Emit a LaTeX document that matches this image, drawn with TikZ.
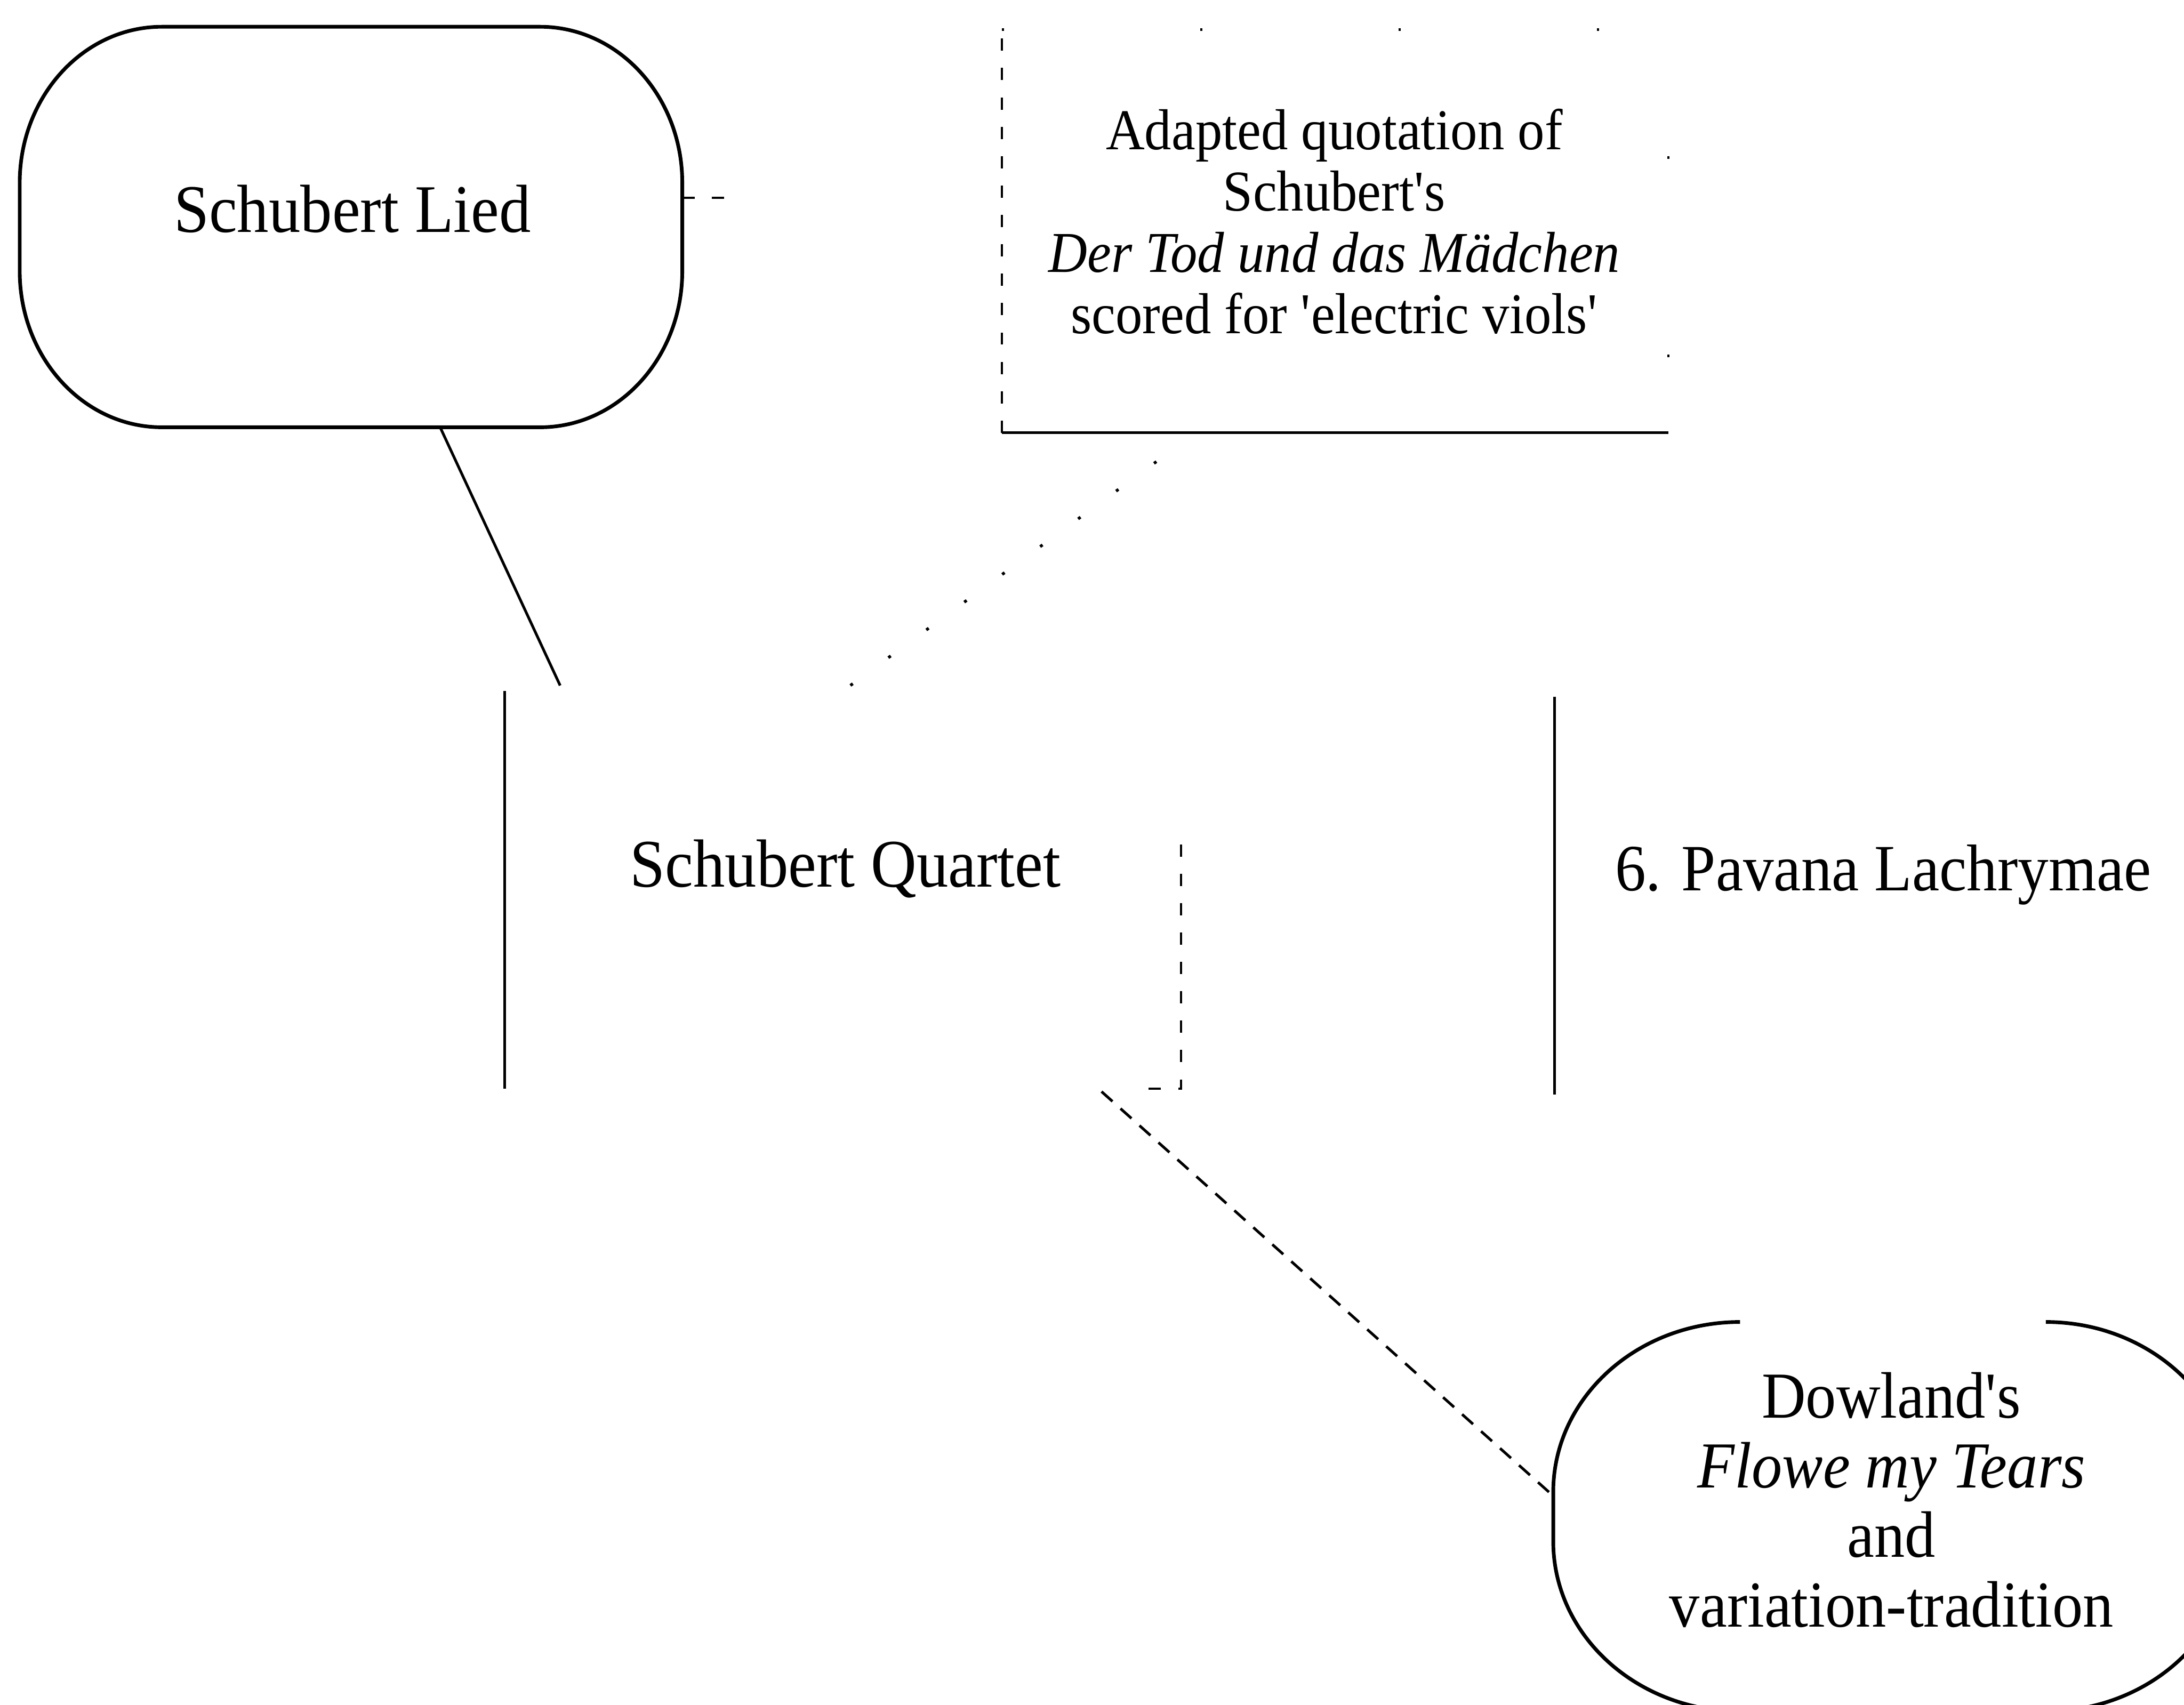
\documentclass[tikz,border=0pt]{standalone}
\usepackage{fontspec}
\setmainfont{Liberation Serif}[FakeStretch=0.93]
\usetikzlibrary{calc}

% Outline of a box with elliptical corners, drawn round a named node.
% #1 node name, #2 horizontal corner radius, #3 vertical corner radius
\newcommand\ovaloutline[3]{%
  \draw[ovalline] ($(#1.north west)+(#2,0)$) -- ($(#1.north east)+(-#2,0)$)
    arc[start angle=90,end angle=0,x radius=#2,y radius=#3]
    -- ($(#1.south east)+(0,#3)$)
    arc[start angle=0,end angle=-90,x radius=#2,y radius=#3]
    -- ($(#1.south west)+(#2,0)$)
    arc[start angle=270,end angle=180,x radius=#2,y radius=#3]
    -- ($(#1.north west)+(0,-#3)$)
    arc[start angle=180,end angle=90,x radius=#2,y radius=#3] -- cycle;}
% Same outline with the middle of the top edge left open.
\newcommand\ovalopentop[3]{%
  \draw[ovalline] ($(#1.north east)+(-#2,0)$)
    arc[start angle=90,end angle=0,x radius=#2,y radius=#3]
    -- ($(#1.south east)+(0,#3)$)
    arc[start angle=0,end angle=-90,x radius=#2,y radius=#3]
    -- ($(#1.south west)+(#2,0)$)
    arc[start angle=270,end angle=180,x radius=#2,y radius=#3]
    -- ($(#1.north west)+(0,-#3)$)
    arc[start angle=180,end angle=90,x radius=#2,y radius=#3];}

\begin{document}
\begin{tikzpicture}[x=0.01cm,y=-0.01cm,
  frame/.style={inner sep=0pt, draw=none},
  lbl/.style={inner sep=0pt, align=center, font=\fontsize{13.9}{15}\selectfont},
  ovalline/.style={line width=0.75pt},
  edge/.style={line width=0.55pt},
  faded/.style={line width=0.45pt, dash pattern=on 2.5pt off 3.5pt},
  dashlink/.style={line width=0.55pt, dash pattern=on 3pt off 2.2pt},
  speckle/.style={line width=0.6pt, dash pattern=on 0.6pt off 9pt},
  faint/.style={line width=0.5pt, dash pattern=on 0.5pt off 40pt}]
\useasboundingbox (0,0) rectangle (1568,1224);

% frames of the five items
\node[frame, minimum width=4.74cm, minimum height=2.86cm] (lied) at (252,163) {};
\node[frame, minimum width=4.77cm, minimum height=2.88cm] (quote) at (958.5,166) {};
\node[frame, minimum width=4.84cm, minimum height=2.84cm] (quartet) at (605,639) {};
\node[frame, minimum width=4.80cm, minimum height=2.84cm] (pavana) at (1357,643) {};
\node[frame, minimum width=4.86cm, minimum height=2.78cm] (dowland) at (1359,1089) {};

% texts
\node[lbl] (liedtxt) at (253,150) {Schubert Lied};
\node[lbl, font=\fontsize{11.8}{12.5}\selectfont] (quotetxt) at (958,159)
  {Adapted quotation of\\Schubert\textquotesingle s\\\textit{Der Tod und das Mädchen}\\scored for \textquotesingle electric viols\textquotesingle};
\node[lbl] (quartettxt) at (607,624) {Schubert Quartet};
\node[lbl, font=\fontsize{13.5}{15}\selectfont] (pavanatxt) at (1352,628) {6. Pavana Lachrymae};
\node[lbl, font=\fontsize{13.4}{14.2}\selectfont] (dowtxt) at (1358,1077)
  {Dowland\textquotesingle s\\\textit{Flowe my Tears}\\and\\variation-tradition};

% outlines
\ovaloutline{lied}{1.02cm}{1.12cm}
\ovalopentop{dowland}{1.34cm}{1.22cm}

\draw[faded] (quote.south west) -- (quote.north west);
\draw[edge] (quote.south west) -- (quote.south east);
\draw[faint] (quote.north west) -- (quote.north east) -- (quote.south east);

\draw[edge] (quartet.north west) -- (quartet.south west);
\draw[faded] ($(quartet.north east)+(0,110)$) -- (quartet.south east) -- ($(quartet.south east)+(-28,0)$);

\draw[edge] (pavana.north west) -- (pavana.south west);

% connectors
\coordinate (liedstub) at (522,142);
\draw[faded] (lied.east |- liedstub) -- (liedstub);
\draw[edge] ($(lied.south)+(64,0)$) -- ($(quartet.north west)+(40,-4)$);
\draw[speckle, shorten <=0.35cm, shorten >=0.05cm] ($(quote.south)+(-100,0)$) -- (quartet.north);
\draw[dashlink] ($(quartet.south east)+(-57,2)$) -- ($(dowland.west)+(1,-14)$);
\end{tikzpicture}
\end{document}
